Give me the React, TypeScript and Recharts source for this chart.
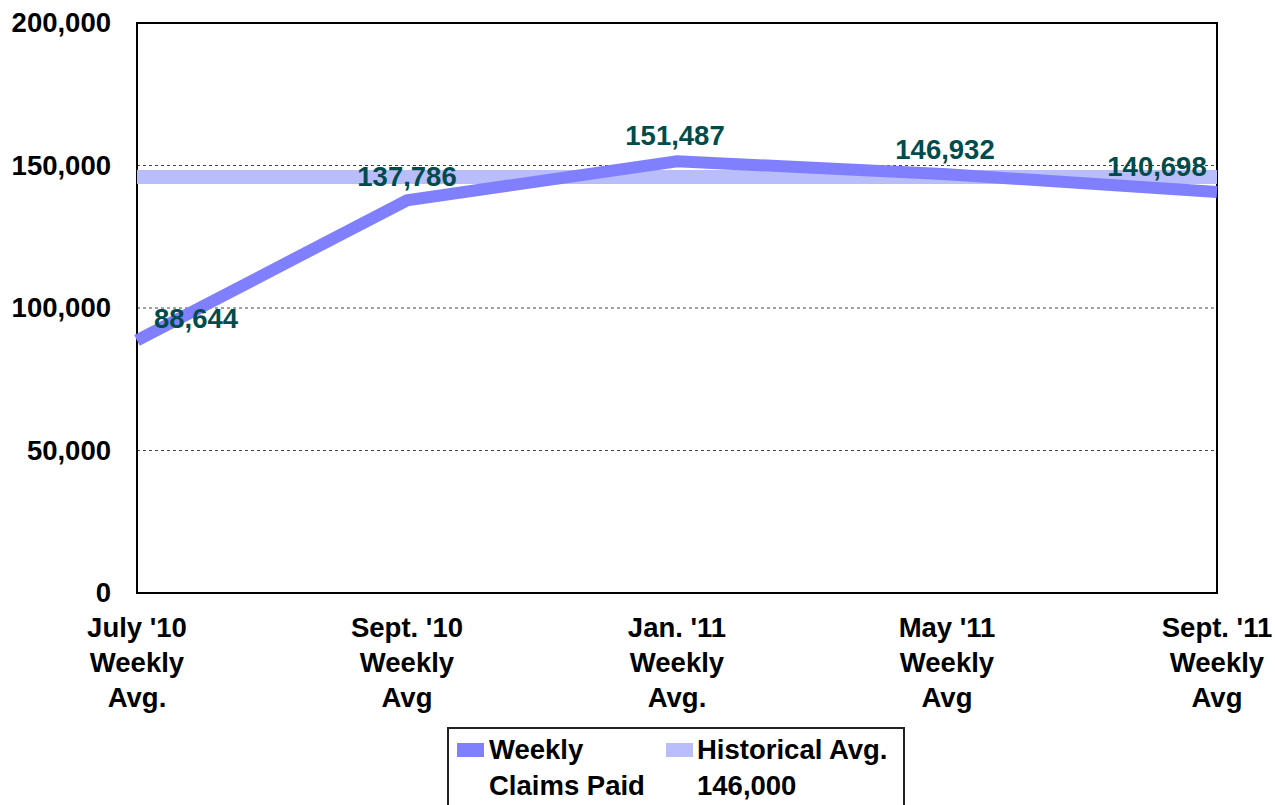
import { LineChart, Line, XAxis, YAxis, CartesianGrid, ReferenceArea } from "recharts";

const categories = [
  "July '10\nWeekly\nAvg.",
  "Sept. '10\nWeekly\nAvg",
  "Jan. '11\nWeekly\nAvg.",
  "May '11\nWeekly\nAvg",
  "Sept. '11\nWeekly\nAvg",
];

const weeklyClaims = [88644, 137786, 151487, 146932, 140698];
const historicalAvg = [146000, 146000, 146000, 146000, 146000];
const yTicks = [0, 50000, 100000, 150000, 200000];

const data = categories.map((name, i) => ({
  name,
  weekly: weeklyClaims[i],
  hist: historicalAvg[i],
}));

const FONT = "'Liberation Sans', Arial, sans-serif";
const FS = 27.5;
const WEEKLY_COLOR = "#8080ff";
const HIST_COLOR = "#b9bdf9";

// label offsets so the first/last values stay inside the plot
const labelShift = [
  { dx: 59, dy: -22 },
  { dx: 0, dy: -24 },
  { dx: -2, dy: -26 },
  { dx: -2, dy: -25 },
  { dx: -60, dy: -26 },
];

const fmt = (v: number) => v.toLocaleString("en-US");

function XTick({ x, y, payload }: any) {
  const lines = String(payload.value).split("\n");
  return (
    <text
      x={x}
      y={y + 44}
      textAnchor="middle"
      fontFamily={FONT}
      fontWeight="bold"
      fontSize={FS}
      fill="#000"
    >
      {lines.map((l, i) => (
        <tspan key={i} x={x} dy={i === 0 ? 0 : 35}>
          {l}
        </tspan>
      ))}
    </text>
  );
}

function YTick({ x, y, payload }: any) {
  return (
    <text
      x={x}
      y={y + 9}
      textAnchor="end"
      fontFamily={FONT}
      fontWeight="bold"
      fontSize={FS}
      fill="#000"
    >
      {fmt(payload.value)}
    </text>
  );
}

function ValueLabel({ x, y, value, index }: any) {
  const s = labelShift[index] || { dx: 0, dy: -25 };
  return (
    <text
      x={x + s.dx}
      y={y + s.dy + 10}
      textAnchor="middle"
      fontFamily={FONT}
      fontWeight="bold"
      fontSize={FS}
      fill="#004c4c"
    >
      {fmt(value)}
    </text>
  );
}

export default function App() {
  return (
    <div style={{ position: "absolute", left: 0, top: 0, width: 1275, height: 805, background: "#fff", overflow: "hidden" }}>
      <LineChart
        width={1275}
        height={805}
        data={data}
        margin={{ top: 23, right: 58, left: 0, bottom: 92 }}
      >
        <CartesianGrid
          vertical={false}
          stroke="#444"
          strokeDasharray="3 3"
          horizontalValues={[50000, 100000, 150000]}
        />
        <XAxis
          dataKey="name"
          interval={0}
          axisLine={false}
          tickLine={false}
          tickSize={0}
          tickMargin={0}
          height={120}
          tick={<XTick />}
        />
        <YAxis
          domain={[0, 200000]}
          ticks={yTicks}
          width={137}
          axisLine={false}
          tickLine={false}
          tickSize={0}
          tickMargin={26}
          tick={<YTick />}
        />
        <Line
          dataKey="hist"
          stroke={HIST_COLOR}
          strokeWidth={14}
          dot={false}
          isAnimationActive={false}
        />
        <Line
          dataKey="weekly"
          stroke={WEEKLY_COLOR}
          strokeWidth={12}
          dot={false}
          strokeLinejoin="miter"
          isAnimationActive={false}
          label={<ValueLabel />}
        />
        <ReferenceArea
          x1={categories[0]}
          x2={categories[categories.length - 1]}
          y1={0}
          y2={200000}
          fill="none"
          stroke="#000"
          strokeWidth={2}
          ifOverflow="visible"
        />
      </LineChart>
      <div
        style={{
          position: "absolute",
          left: 447,
          top: 727,
          width: 454,
          height: 100,
          border: "2px solid #222",
          fontFamily: FONT,
          fontWeight: "bold",
          fontSize: FS,
          color: "#000",
        }}
      >
        <div style={{ position: "absolute", left: 8, top: 14, width: 27, height: 14, background: WEEKLY_COLOR }} />
        <div style={{ position: "absolute", left: 40, top: 3, lineHeight: "36px" }}>
          Weekly
          <br />
          Claims Paid
        </div>
        <div style={{ position: "absolute", left: 217, top: 14, width: 27, height: 14, background: HIST_COLOR }} />
        <div style={{ position: "absolute", left: 248, top: 3, lineHeight: "36px" }}>
          Historical Avg.
          <br />
          146,000
        </div>
      </div>
    </div>
  );
}
